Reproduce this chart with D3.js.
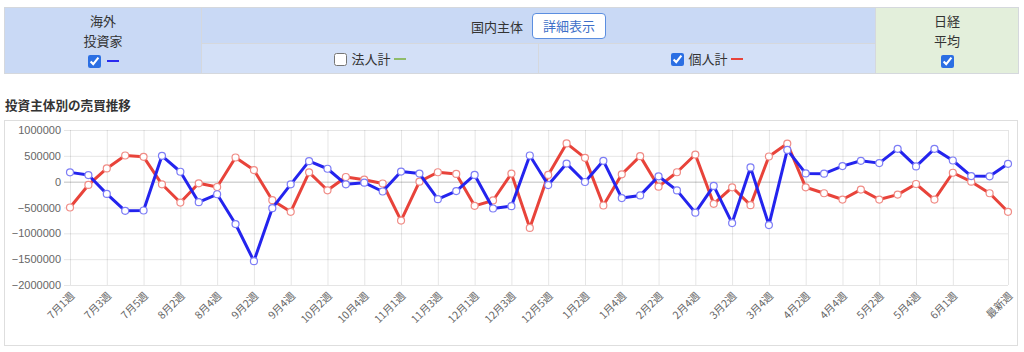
<!DOCTYPE html>
<html lang="ja">
<head>
<meta charset="utf-8">
<script src="https://cdn.jsdelivr.net/npm/d3@7"></script>
<style>
  body {
    margin: 0;
    width: 1024px;
    height: 352px;
    overflow: hidden;
    background: #fff;
    font-family: "Helvetica Neue", Arial, "Liberation Sans", "Noto Sans CJK JP", sans-serif;
    color: #333;
  }
  table.selector {
    position: absolute;
    left: 4px;
    top: 7px;
    width: 1014px;
    height: 66px;
    border-collapse: collapse;
    table-layout: fixed;
    font-size: 13px;
    font-family: "Noto Sans CJK JP", sans-serif;
  }
  table.selector td {
    border: 1px solid #d5d8dd;
    text-align: center;
    vertical-align: middle;
    padding: 0;
    line-height: 20px;
  }
  td.foreign, td.domestic { background: #c9d9f5; }
  td.sub { background: #d3e0f7; }
  td.nikkei { background: #e3efdb; }
  input[type=checkbox] {
    accent-color: #2b6fe3;
    width: 13px;
    height: 13px;
    margin: 0 2px 0 0;
    vertical-align: -2px;
  }
  .dash {
    display: inline-block;
    width: 12px;
    height: 2px;
    vertical-align: 4px;
    margin-left: 4px;
  }
  button.detail {
    font-family: "Noto Sans CJK JP", sans-serif;
    font-size: 13px;
    color: #3d6fc8;
    background: #fff;
    border: 1px solid #5b8ee0;
    border-radius: 4px;
    width: 74px;
    height: 26px;
    margin-left: 9px;
    padding: 0;
  }
  #title {
    position: absolute;
    left: 5px;
    top: 95px;
    font-size: 12.6px;
    font-weight: bold;
    font-family: "Noto Sans CJK JP", sans-serif;
    color: #333;
  }
  #chart {
    position: absolute;
    left: 0;
    top: 0;
  }
</style>
</head>
<body>
<table class="selector">
  <colgroup>
    <col style="width:197px"><col style="width:337px"><col style="width:337px"><col style="width:143px">
  </colgroup>
  <tr style="height:36px">
    <td class="foreign" rowspan="2">海外<br>投資家<br><input type="checkbox" checked><span class="dash" style="background:#2a2af0"></span></td>
    <td class="domestic" colspan="2"><span>国内主体</span><button class="detail">詳細表示</button></td>
    <td class="nikkei" rowspan="2">日経<br>平均<br><input type="checkbox" checked style="margin:0"></td>
  </tr>
  <tr style="height:30px">
    <td class="sub"><input type="checkbox"> 法人計<span class="dash" style="background:#8fbc6a"></span></td>
    <td class="sub"><input type="checkbox" checked> 個人計<span class="dash" style="background:#e8433a"></span></td>
  </tr>
</table>
<div id="title">投資主体別の売買推移</div>
<svg id="chart" width="1024" height="352"></svg>
<script>
// week labels (every other label is shown on the axis)
const weekLabels = [
  '7月1週', '7月2週', '7月3週', '7月4週', '7月5週', '8月1週', '8月2週', '8月3週', '8月4週',
  '9月1週', '9月2週', '9月3週', '9月4週', '10月1週', '10月2週', '10月3週', '10月4週', '10月5週',
  '11月1週', '11月2週', '11月3週', '11月4週', '12月1週', '12月2週', '12月3週', '12月4週', '12月5週',
  '1月1週', '1月2週', '1月3週', '1月4週', '2月1週', '2月2週', '2月3週', '2月4週',
  '3月1週', '3月2週', '3月3週', '3月4週', '4月1週', '4月2週', '4月3週', '4月4週',
  '5月1週', '5月2週', '5月3週', '5月4週', '5月5週', '6月1週', '6月2週', '6月3週', '最新週'
];

// 海外投資家
const foreignValues = [
  180000, 128000, -237000, -564000, -558000, 500000, 192000, -397000, -244000,
  -820000, -1538000, -513000, -51000, 397000, 250000, -51000, -19000, -190000,
  195000, 156000, -338000, -182000, 130000, -519000, -474000, 506000, -65000,
  350000, -6000, 403000, -318000, -266000, 104000, -169000, -600000,
  -83000, -801000, 276000, -840000, 615000, 160000, 154000, 301000,
  404000, 359000, 635000, 295000, 635000, 410000, 109000, 103000, 346000
];

// 個人計
const individualValues = [
  -500000, -64000, 256000, 506000, 481000, -51000, -404000, -32000, -103000,
  468000, 224000, -359000, -583000, 180000, -167000, 90000, 38000, -35000,
  -753000, 0, 182000, 150000, -468000, -364000, 156000, -896000, 130000,
  740000, 461000, -461000, 143000, 494000, -97000, 182000, 525000,
  -429000, -109000, -455000, 487000, 737000, -109000, -224000, -346000,
  -154000, -346000, -250000, -45000, -346000, 173000, 0, -224000, -583000
];

const yTicks = [1000000, 500000, 0, -500000, -1000000, -1500000, -2000000];

const svg = d3.select('#chart');

const plot = { left: 70, right: 1008, top: 130, bottom: 285 };

// panel border
svg.append('rect')
  .attr('x', 4.5)
  .attr('y', 120.5)
  .attr('width', 1013)
  .attr('height', 225)
  .attr('fill', 'none')
  .attr('stroke', '#dedede');

const x = d3.scalePoint()
  .domain(weekLabels)
  .range([plot.left, plot.right]);

const y = d3.scaleLinear()
  .domain([-2000000, 1000000])
  .range([plot.bottom, plot.top]);

// only every other week gets a label, plus the latest
const shownLabels = weekLabels.filter((d, i) => i % 2 === 0 && i < weekLabels.length - 2)
  .concat([weekLabels[weekLabels.length - 1]]);

// horizontal grid + y labels
const yAxis = d3.axisLeft(y)
  .tickValues(yTicks)
  .tickSize(-(plot.right - plot.left + 6))
  .tickPadding(3)
  .tickFormat(d3.format('d'));

svg.append('g')
  .attr('class', 'y axis')
  .attr('transform', `translate(${plot.left - 6},0)`)
  .call(yAxis)
  .call(g => g.select('.domain').remove())
  .call(g => g.selectAll('line')
    .attr('stroke', d => (d === 0 ? 'rgba(0,0,0,0.25)' : 'rgba(0,0,0,0.1)')))
  .call(g => g.selectAll('text')
    .attr('fill', '#666')
    .style('font-size', '11px')
    .style('font-family', '"Helvetica Neue", Arial, "Liberation Sans", sans-serif'));

// vertical grid + rotated x labels
const xAxis = d3.axisBottom(x)
  .tickValues(shownLabels)
  .tickSize(-(plot.bottom - plot.top))
  .tickSizeOuter(0);

svg.append('g')
  .attr('class', 'x axis')
  .attr('transform', `translate(0,${plot.bottom})`)
  .call(xAxis)
  .call(g => g.select('.domain').remove())
  .call(g => g.selectAll('line').attr('stroke', 'rgba(0,0,0,0.1)'))
  .call(g => g.selectAll('text')
    .attr('fill', '#666')
    .attr('text-anchor', 'end')
    .attr('y', 0)
    .attr('dy', '0.35em')
    .attr('transform', 'translate(2,9) rotate(-45)')
    .style('font-size', '10.5px')
    .style('font-family', '"Noto Sans CJK JP", sans-serif'));

const series = [
  { key: 'individual', values: individualValues, color: '#e8433a', pointColor: '#f08c86' },
  { key: 'foreign', values: foreignValues, color: '#2424ee', pointColor: '#7d7df6' },
];

const line = d3.line()
  .x((d, i) => x(weekLabels[i]))
  .y(d => y(d));

series.forEach(s => {
  svg.append('path')
    .attr('class', `line ${s.key}`)
    .attr('d', line(s.values))
    .attr('fill', 'none')
    .attr('stroke', s.color)
    .attr('stroke-width', 3)
    .attr('stroke-linejoin', 'round');

  svg.append('g')
    .attr('class', `points ${s.key}`)
    .selectAll('circle')
    .data(s.values)
    .enter().append('circle')
      .attr('cx', (d, i) => x(weekLabels[i]))
      .attr('cy', d => y(d))
      .attr('r', 3.5)
      .attr('fill', '#fff')
      .attr('stroke', s.pointColor)
      .attr('stroke-width', 1.2);
});
</script>
</body>
</html>
